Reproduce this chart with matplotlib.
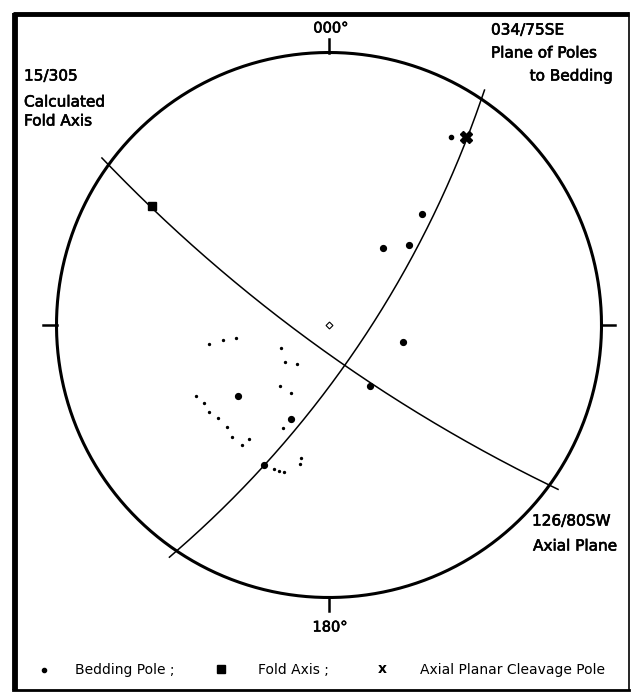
import numpy as np
import matplotlib
matplotlib.use('Agg')
import matplotlib.pyplot as plt
import matplotlib.patheffects as pe

# planes (strike / dip, right hand rule)
plane_strikes = [34, 126]
plane_dips = [75, 80]

# poles to bedding (trend, plunge)
bed_trends = [40, 45, 35, 103, 146, 232, 202, 205]
bed_plunges = [34, 45, 52, 59, 60, 44, 49, 31]
small_trends = [33]
small_plunges = [11]
faint_trends = [261, 262, 262, 244, 230, 219, 219, 209, 242, 238, 234, 230, 225,
                221, 216, 215, 204, 192, 192, 201, 199, 197]
faint_plunges = [42, 47, 52, 68, 66, 69, 58, 58, 32, 33, 33, 34, 34,
                 33, 33, 36, 45, 37, 35, 31, 31, 31]

# calculated fold axis and axial planar cleavage pole (trend, plunge)
fold_trend, fold_plunge = [304], [14]
cleav_trend, cleav_plunge = [36], [9]

labels_top = ['000°', '180°']
legend_items = ['Bedding Pole ;', 'Fold Axis ;', 'Axial Planar Cleavage Pole']


def project(trend, plunge):
    # equal angle (wulff) lower hemisphere
    t = np.radians(trend)
    p = np.radians(plunge)
    r = np.tan((np.pi/2 - p)/2)
    return r*np.sin(t), r*np.cos(t)


def great_circle(strike, dip, n=300):
    s = np.radians(strike)
    dd = s + np.pi/2
    d = np.radians(dip)
    a = np.linspace(0, np.pi, n)
    north = np.cos(a)*np.cos(s) + np.sin(a)*np.cos(d)*np.cos(dd)
    east = np.cos(a)*np.sin(s) + np.sin(a)*np.cos(d)*np.sin(dd)
    down = np.sin(a)*np.sin(d)
    plunge = np.degrees(np.arcsin(np.clip(down, -1, 1)))
    trend = np.degrees(np.arctan2(east, north))
    return project(trend, plunge)


W, H = 631, 693
fig = plt.figure(figsize=(W/100, H/100), dpi=100)
plt.rcParams['font.family'] = ['DejaVu Sans']

# overlay in pixels for frame and labels
ov = fig.add_axes([0, 0, 1, 1])
ov.set_xlim(0, W)
ov.set_ylim(H, 0)
ov.axis('off')

cx, cy, R = 329, 325, 272.5
ax = fig.add_axes([(cx - R)/W, (H - cy - R)/H, 2*R/W, 2*R/H])
ax.set_xlim(-1, 1)
ax.set_ylim(-1, 1)
ax.axis('off')

# primitive
th = np.linspace(0, 2*np.pi, 400)
ax.plot(np.cos(th), np.sin(th), 'k', lw=2.2, clip_on=False)
tl = 0.05
for az in [0, 90, 180, 270]:
    a = np.radians(az)
    ax.plot([np.sin(a), (1 + tl)*np.sin(a)], [np.cos(a), (1 + tl)*np.cos(a)], 'k', lw=1.8, clip_on=False)

# great circles
for strike, dip in zip(plane_strikes, plane_dips):
    x, y = great_circle(strike, dip)
    ax.plot(x, y, 'k', lw=1.1, clip_on=False)
    # short extension beyond the primitive
    for i0, i1 in [(0, 1), (-1, -2)]:
        v = np.array([x[i0] - x[i1], y[i0] - y[i1]])
        v = v/np.linalg.norm(v)*0.035
        ax.plot([x[i0], x[i0] + v[0]], [y[i0], y[i0] + v[1]], 'k', lw=1.1, clip_on=False)

# centre mark
ax.plot(0, 0, marker='D', ms=3.5, mfc='white', mec='k', mew=0.8)

# poles
x, y = project(np.array(bed_trends), np.array(bed_plunges))
ax.plot(x, y, 'ko', ms=4.2, ls='none')
x, y = project(np.array(small_trends), np.array(small_plunges))
ax.plot(x, y, 'ko', ms=3, ls='none')
x, y = project(np.array(faint_trends), np.array(faint_plunges))
ax.plot(x, y, 'ko', ms=1.4, ls='none')
x, y = project(np.array(fold_trend), np.array(fold_plunge))
ax.plot(x, y, 'ks', ms=6, ls='none')
x, y = project(np.array(cleav_trend), np.array(cleav_plunge))
ax.plot(x, y, 'kX', ms=8, ls='none')

# frame
ov.plot([15, 15], [13, 690], 'k', lw=4.2, solid_capstyle='butt')
ov.plot([13, 629], [14, 14], 'k', lw=3.5, solid_capstyle='butt')
ov.plot([629, 629], [13, 690], 'k', lw=1.2)
ov.plot([13, 629], [690, 690], 'k', lw=2.0)

fs = 11
bold = [pe.withStroke(linewidth=0.45, foreground='k')]
ov.text(331, 28, labels_top[0], ha='center', va='center', fontsize=fs - 0.5, path_effects=bold)
ov.text(330, 627, labels_top[1], ha='center', va='center', fontsize=fs - 0.5, path_effects=bold)

ov.text(491, 30, '034/75SE', ha='left', va='center', fontsize=fs, path_effects=bold)
ov.text(491, 53, 'Plane of Poles', ha='left', va='center', fontsize=fs, path_effects=bold)
ov.text(613, 76, 'to Bedding', ha='right', va='center', fontsize=fs, path_effects=bold)

ov.text(24, 76, '15/305', ha='left', va='center', fontsize=fs, path_effects=bold)
ov.text(24, 102, 'Calculated', ha='left', va='center', fontsize=fs, path_effects=bold)
ov.text(24, 121, 'Fold Axis', ha='left', va='center', fontsize=fs, path_effects=bold)

ov.text(532, 521, '126/80SW', ha='left', va='center', fontsize=fs, path_effects=bold)
ov.text(533, 546, 'Axial Plane', ha='left', va='center', fontsize=fs, path_effects=bold)

# legend
ly = 670
ov.plot(44, ly, 'ko', ms=3)
ov.text(75, ly, legend_items[0], ha='left', va='center', fontsize=10)
ov.plot(221, ly - 1, 'ks', ms=5.5)
ov.text(258, ly, legend_items[1], ha='left', va='center', fontsize=10)
ov.text(382, ly - 1, 'x', ha='center', va='center', fontsize=10, fontweight='bold')
ov.text(420, ly, legend_items[2], ha='left', va='center', fontsize=10)

fig.savefig('out.png', dpi=100)
